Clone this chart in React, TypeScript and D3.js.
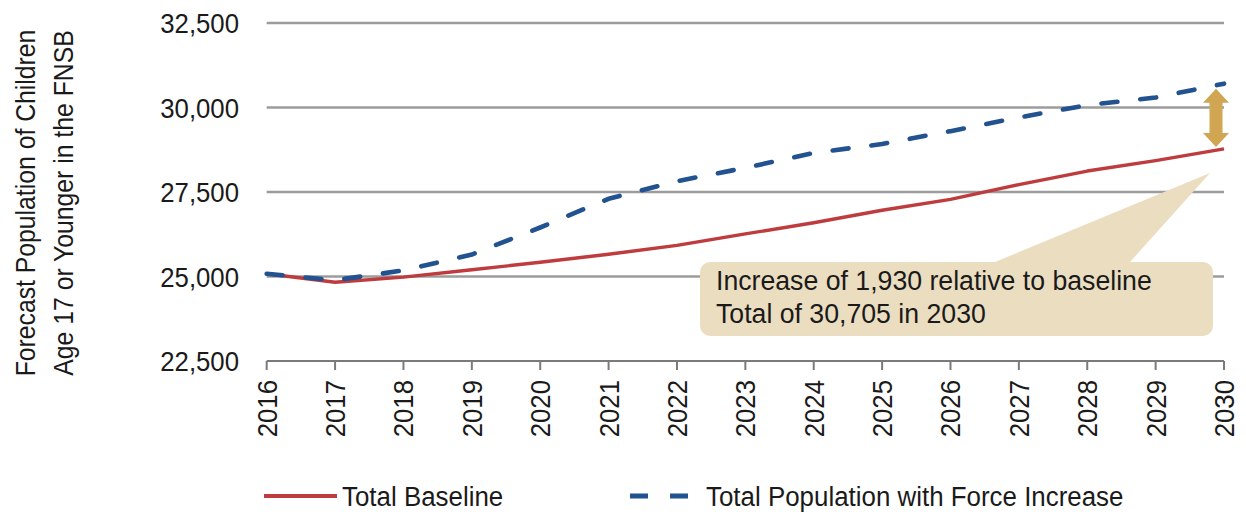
import React from "react";
import * as d3 from "d3";

const years = [2016, 2017, 2018, 2019, 2020, 2021, 2022, 2023, 2024, 2025, 2026, 2027, 2028, 2029, 2030];
const totalBaseline = [25080, 24830, 24980, 25200, 25420, 25660, 25920, 26260, 26590, 26960, 27280, 27720, 28120, 28430, 28775];
const totalForceIncrease = [25080, 24890, 25180, 25650, 26450, 27300, 27820, 28215, 28655, 28920, 29300, 29705, 30070, 30295, 30705];
const yTicks = [22500, 25000, 27500, 30000, 32500];
const yTitleLines = ["Forecast Population of Children", "Age 17 or Younger in the FNSB"];
const seriesNames = ["Total Baseline", "Total Population with Force Increase"];
const calloutLines = ["Increase of 1,930 relative to baseline", "Total of 30,705 in 2030"];

const W = 1246;
const H = 515;
const FONT = "'Liberation Sans', Arial, Helvetica, sans-serif";
const RED = "#BE3B3E";
const BLUE = "#22528F";
const GRID = "#9C9C9C";
const TEXT = "#1a1a1a";
const CALLOUT = "#EBDDC0";
const ARROW = "#D1A653";

type TProps = {
  x: number;
  y: number;
  size: number;
  sx: number;
  rotate?: number;
  anchor?: "start" | "middle" | "end";
  dy?: string;
  children: React.ReactNode;
};

function CText({ x, y, size, sx, rotate = 0, anchor = "start", dy, children }: TProps) {
  return (
    <text
      transform={`translate(${x},${y}) rotate(${rotate}) scale(${sx},1)`}
      textAnchor={anchor}
      fontSize={size}
      fill={TEXT}
      dy={dy}
    >
      {children}
    </text>
  );
}

export default function App() {
  const x = d3.scaleLinear().domain([2016, 2030]).range([266.7, 1224]);
  const y = d3.scaleLinear().domain([22500, 32500]).range([361, 23]);
  const fmt = d3.format(",");

  const line = d3
    .line<number>()
    .x((_, i) => x(years[i]))
    .y((d) => y(d))
    .curve(d3.curveLinear);

  const lastYear = years[years.length - 1];
  const ax = x(lastYear) - 8;
  const aTop = y(totalForceIncrease[totalForceIncrease.length - 1]) + 5;
  const aBot = y(totalBaseline[totalBaseline.length - 1]) - 2;
  const hw = 13;
  const hl = 14;
  const sw = 6.5;
  const arrowPts = [
    [ax, aTop],
    [ax + hw, aTop + hl],
    [ax + sw, aTop + hl],
    [ax + sw, aBot - hl],
    [ax + hw, aBot - hl],
    [ax, aBot],
    [ax - hw, aBot - hl],
    [ax - sw, aBot - hl],
    [ax - sw, aTop + hl],
    [ax - hw, aTop + hl],
  ]
    .map((p) => p.join(","))
    .join(" ");

  const boxX = 700;
  const boxY = 262;
  const boxW = 513;
  const boxH = 74;
  const tipX = x(lastYear) - 14;
  const tipY = y(totalBaseline[totalBaseline.length - 1]) + 24;

  return (
    <svg
      width={W}
      height={H}
      style={{ position: "absolute", left: 0, top: 0, background: "#fff" }}
      fontFamily={FONT}
    >
      {/* gridlines */}
      {yTicks.slice(1).map((t) => (
        <line key={t} x1={x(2016)} x2={x(2030)} y1={y(t)} y2={y(t)} stroke={GRID} strokeWidth={2.6} />
      ))}
      {/* x axis */}
      <line x1={x(2016)} x2={x(2030)} y1={y(22500)} y2={y(22500)} stroke="#7a7a7a" strokeWidth={2} />
      {years.map((yr) => (
        <line key={yr} x1={x(yr)} x2={x(yr)} y1={y(22500)} y2={y(22500) + 9} stroke="#7a7a7a" strokeWidth={2} />
      ))}
      {/* y tick labels */}
      {yTicks.map((t) => (
        <CText key={t} x={239} y={y(t)} dy="0.36em" anchor="end" size={28} sx={0.92}>
          {fmt(t)}
        </CText>
      ))}
      {/* x tick labels */}
      {years.map((yr) => (
        <CText key={yr} x={x(yr) + 10} y={380} rotate={-90} anchor="end" size={28} sx={0.92}>
          {yr}
        </CText>
      ))}
      {/* y title */}
      {yTitleLines.map((l, i) => (
        <CText key={l} x={35 + i * 38} y={203} rotate={-90} anchor="middle" size={27.5} sx={0.9}>
          {l}
        </CText>
      ))}
      {/* callout */}
      <polygon points={`995,${boxY} ${tipX},${tipY} 1130,${boxY}`} fill={CALLOUT} />
      <rect x={boxX} y={boxY} width={boxW} height={boxH} rx={10} fill={CALLOUT} />
      {calloutLines.map((l, i) => (
        <CText key={l} x={716} y={290 + i * 33} size={27.5} sx={0.97}>
          {l}
        </CText>
      ))}
      {/* series */}
      <path d={line(totalBaseline) || ""} fill="none" stroke={RED} strokeWidth={3.4} strokeLinejoin="round" />
      <path
        d={line(totalForceIncrease) || ""}
        fill="none"
        stroke={BLUE}
        strokeWidth={4.6}
        strokeDasharray="16,23"
        strokeLinecap="round"
        strokeLinejoin="round"
      />
      {/* arrow */}
      <polygon points={arrowPts} fill={ARROW} />
      {/* legend */}
      <line x1={264} x2={337} y1={496} y2={496} stroke={RED} strokeWidth={4} />
      <CText x={342} y={506} size={28} sx={0.925}>
        {seriesNames[0]}
      </CText>
      <line x1={630} x2={690} y1={496} y2={496} stroke={BLUE} strokeWidth={5} strokeDasharray="18,22" />
      <CText x={706} y={506} size={28} sx={0.925}>
        {seriesNames[1]}
      </CText>
    </svg>
  );
}
